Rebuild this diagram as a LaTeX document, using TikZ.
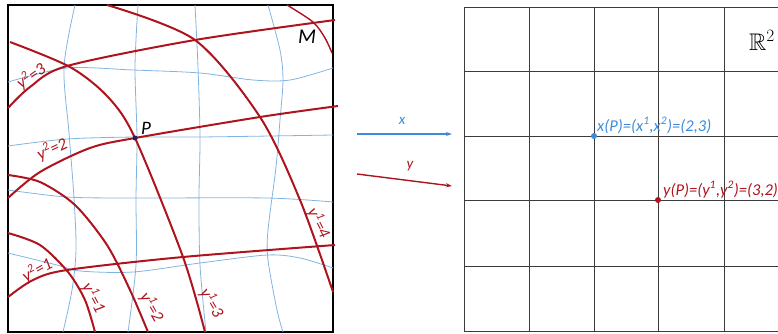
\documentclass[tikz,border=0pt]{standalone}
\usepackage{fontspec}
\setmainfont{Carlito}
\usepackage{amssymb}
\usetikzlibrary{arrows.meta}
\definecolor{curveblue}{RGB}{130,180,225}
\definecolor{arrblue}{RGB}{60,140,220}
\definecolor{cred}{RGB}{175,20,30}
\definecolor{gridgray}{RGB}{60,60,60}
\definecolor{pdot}{RGB}{40,30,90}
\begin{document}
\begin{tikzpicture}[x=1pt,y=-1pt,
  bluecurve/.style={curveblue, line width=0.8pt},
  redcurve/.style={cred, line width=2pt},
  gridline/.style={gridgray, line width=0.9pt},
  redlab/.style={text=cred, font=\fontsize{17}{17}\selectfont\itshape, inner sep=0pt},
  bluelab/.style={text=arrblue, font=\fontsize{16.5}{16.5}\selectfont\itshape, inner sep=0pt},
  coordlab/.style={font=\fontsize{15}{15}\selectfont\itshape, inner sep=0pt},
  mapar/.style={line width=1.4pt, -{Stealth[length=6pt,width=4pt]}},
  dotnode/.style={circle, inner sep=0pt, minimum size=6pt}]
\clip (0,0) rectangle (778,333);
% left box
\draw[line width=2pt] (8,5) rectangle (333,332);
% blue coordinate grid
\begin{scope}
\clip (8,5) rectangle (333,332);
\draw[bluecurve] plot[smooth] coordinates {(75,5) (64,67) (69,133) (74,198) (76,250) (72,290) (63,332)};
\draw[bluecurve] plot[smooth] coordinates {(138,5) (135,67) (137,137) (136,198) (136,265) (128,332)};
\draw[bluecurve] plot[smooth] coordinates {(195,5) (198,67) (200,137) (199,198) (200,265) (206,332)};
\draw[bluecurve] plot[smooth] coordinates {(268,5) (280,50) (283,80) (280,120) (276,167) (268,230) (268,260) (277,310) (283,332)};
\draw[bluecurve] plot[smooth] coordinates {(8,82) (67,68) (133,70) (200,73) (253,80) (290,80) (333,68)};
\draw[bluecurve] plot[smooth] coordinates {(8,146) (67,139) (135,137) (200,137) (333,135)};
\draw[bluecurve] plot[smooth] coordinates {(8,190) (67,197) (133,198) (267,198) (333,202)};
\draw[bluecurve] plot[smooth] coordinates {(8,253) (57,265) (80,271) (133,272) (200,263) (267,255) (300,258) (333,268)};
\end{scope}
% red y curves
\draw[redcurve] plot[smooth] coordinates {(8,108) (30,87) (67,66) (195,40) (335,20)};
\draw[redcurve] plot[smooth] coordinates {(8,198) (40,172) (90,148) (135,138) (260,117) (338,106)};
\draw[redcurve] plot[smooth] coordinates {(8,297) (33,280) (67,270) (183,257) (335,245)};
\draw[redcurve] plot[smooth] coordinates {(8,233) (40,245) (68,272) (85,300) (95,332)};
\draw[redcurve] plot[smooth] coordinates {(8,175) (40,182) (75,205) (107,245) (130,290) (148,332)};
\draw[redcurve] plot[smooth] coordinates {(10,42) (70,67) (108,97) (135,138) (183,257) (205,332)};
\draw[redcurve] plot[smooth] coordinates {(107,5) (195,40) (260,117) (300,200) (333,292)};
\draw[redcurve, line width=1.4pt] plot[smooth] coordinates {(287,5) (313,22) (325,38) (332,53)};
% labels on left
\node[redlab, rotate=35] (l23) at (31,76) {y\textsuperscript{2}=3};
\node[redlab, rotate=25] (l22) at (52,149) {y\textsuperscript{2}=2};
\node[redlab, rotate=28] (l21) at (37,270) {y\textsuperscript{2}=1};
\node[redlab, rotate=-62] (l11) at (94,298) {y\textsuperscript{1}=1};
\node[redlab, rotate=-60] (l12) at (152,307) {y\textsuperscript{1}=2};
\node[redlab, rotate=-60] (l13) at (212,303) {y\textsuperscript{1}=3};
\node[redlab, rotate=-63] (l14) at (319,223) {y\textsuperscript{1}=4};
\node[coordlab, font=\fontsize{21}{21}\selectfont\itshape] (M) at (307,37) {M};
\node[dotnode, fill=pdot, minimum size=5pt] (P) at (135,138) {};
\node[coordlab, font=\fontsize{19}{19}\selectfont\itshape] (Plab) at (146,128) {P};
% maps
\coordinate (xs) at (357,134);
\coordinate (xe) at (452,134);
\coordinate (ys) at (357,174);
\coordinate (ye) at (452,186);
\draw[mapar, arrblue] (xs) -- (xe);
\draw[mapar, cred] (ys) -- (ye);
\node[bluelab, font=\fontsize{15}{15}\selectfont\itshape] (xmap) at (402,121) {x};
\node[redlab, font=\fontsize{15}{15}\selectfont\itshape] (ymap) at (410,166) {y};
% right grid
\foreach \gx in {464,529,594,658,724,789} \draw[gridline] (\gx,7) -- (\gx,331);
\foreach \gy in {7,71,136,200,266,331} \draw[gridline] (464,\gy) -- (790,\gy);
\node[font=\fontsize{24}{24}\selectfont] (R2) at (762,40) {$\mathbb{R}^2$};
\node[dotnode, fill=arrblue] (xP) at (594,136) {};
\node[bluelab, anchor=base west] (xPlab) at (597,131) {x(P)=(x\textsuperscript{1},x\textsuperscript{2})=(2,3)};
\node[dotnode, fill=cred] (yP) at (658,200) {};
\node[redlab, font=\fontsize{16.5}{16.5}\selectfont\itshape, anchor=base west] (yPlab) at (663,195) {y(P)=(y\textsuperscript{1},y\textsuperscript{2})=(3,2)};
\end{tikzpicture}
\end{document}
